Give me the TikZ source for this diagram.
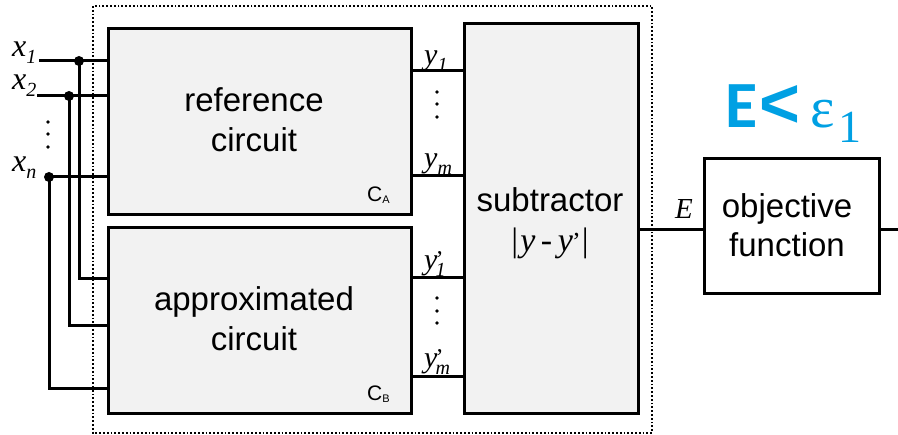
\documentclass[tikz,border=0pt]{standalone}
\usepackage{fontspec}
\setmainfont{Liberation Sans}
\newfontfamily\tnr{Liberation Serif}
\newfontfamily\carfont{Carlito}
\definecolor{boxgray}{HTML}{F2F2F2}
\definecolor{accentblue}{RGB}{0,160,227}
\newcommand{\vlab}[2]{{\tnr\itshape #1\raisebox{-7pt}{\fontsize{20}{20}\selectfont #2}}}
\newcommand{\vlabp}[2]{{\tnr\itshape #1\kern-2pt\raisebox{2pt}{\fontsize{24}{24}\selectfont\upshape\textquoteright}\kern-8pt\raisebox{-7pt}{\fontsize{20}{20}\selectfont #2}}}
\begin{document}
\begin{tikzpicture}[x=1pt,y=-1pt,
  blk/.style={draw=black, line width=2.8pt, fill=boxgray, anchor=north west, inner sep=0pt},
  conn/.style={line width=3pt, line cap=rect},
  lbl/.style={font=\fontsize{33}{40}\selectfont, inner sep=0pt, anchor=base},
  vin/.style={font=\fontsize{32}{32}\selectfont, inner sep=0pt, anchor=base west},
  vout/.style={font=\fontsize{30}{30}\selectfont, inner sep=0pt, anchor=base west},
  vdot/.style={fill=black},
  jdot/.style={circle, fill=black, inner sep=0pt, minimum size=10pt}
]
\useasboundingbox (0,0) rectangle (898,435);
% dotted enclosure
\draw[line width=1.8pt, dotted] (93,6) rectangle (652,433);
% inputs
\coordinate (x1) at (40,61);
\coordinate (x2) at (38,96);
\coordinate (xn) at (49,177);
\node[jdot] (d1) at (79,61) {};
\node[jdot] (d2) at (69,96) {};
\node[jdot] (dn) at (49,177) {};
\coordinate (b1) at (79,279);
\coordinate (b2) at (69,326);
\coordinate (bn) at (49,389);
\coordinate (r1) at (107,61);
\coordinate (r2) at (107,96);
\coordinate (rn) at (107,177);
\coordinate (a1) at (107,279);
\coordinate (a2) at (107,326);
\coordinate (an) at (107,389);
\draw[conn] (x1) -- (r1);
\draw[conn] (x2) -- (r2);
\draw[conn] (xn) -- (rn);
\draw[conn] (d1.center) -- (b1) -- (a1);
\draw[conn] (d2.center) -- (b2) -- (a2);
\draw[conn] (dn.center) -- (bn) -- (an);
% blocks
\node[blk, minimum width=303pt, minimum height=186pt] (ref) at (107,27) {};
\node[blk, minimum width=303pt, minimum height=186pt] (apx) at (107,226) {};
\node[blk, minimum width=174pt, minimum height=390pt] (sub) at (463,22) {};
\node[blk, fill=white, minimum width=175pt, minimum height=135pt] (obj) at (703,157) {};
% block texts
\node[lbl] (reft1) at (254,112) {reference};
\node[lbl] (reft2) at (254,152) {circuit};
\node[lbl] (apxt1) at (254,311) {approximated};
\node[lbl] (apxt2) at (254,351) {circuit};
\node[lbl] (subt) at (550,212) {subtractor};
\node[inner sep=0pt, anchor=base, font=\fontsize{34}{34}\selectfont] (subf) at (550,252) {{\tnr|\kern2pt\itshape y\,-\,y\kern-1pt\raisebox{1pt}{\upshape\fontsize{26}{26}\selectfont\textquoteright}\kern1pt\upshape|}};
\node[lbl] (objt1) at (787,218) {objective};
\node[lbl] (objt2) at (787,257) {function};
\node[inner sep=0pt, anchor=base west, font=\fontsize{21}{21}\selectfont] (ca) at (367,202) {C\raisebox{-2pt}{\fontsize{11}{11}\selectfont A}};
\node[inner sep=0pt, anchor=base west, font=\fontsize{21}{21}\selectfont] (cb) at (367,401) {C\raisebox{-2pt}{\fontsize{11}{11}\selectfont B}};
\node[vin] (lx1) at (12,57) {\vlab{x}{1}};
\node[vin] (lx2) at (12,90) {\vlab{x}{2}};
\node[vin] (lxn) at (12,172) {\vlab{x}{n}};
\foreach \yy in {122,134,147} \fill[vdot] (48,\yy) circle (1.9);
% outputs
\draw[conn] (ref.east |- 0,71) -- (sub.west |- 0,71);
\draw[conn] (ref.east |- 0,176) -- (sub.west |- 0,176);
\draw[conn] (apx.east |- 0,278) -- (sub.west |- 0,278);
\draw[conn] (apx.east |- 0,377) -- (sub.west |- 0,377);
\node[vout] (ly1) at (424,65) {\vlab{y}{1}};
\node[vout] (lym) at (424,168) {\vlab{y}{m}};
\node[vout] (lyp1) at (424,270) {\vlabp{y}{1}};
\node[vout] (lypm) at (424,368) {\vlabp{y}{m}};
\foreach \yy in {92,104,117} \fill[vdot] (437,\yy) circle (1.9);
\foreach \yy in {298,311,323} \fill[vdot] (437,\yy) circle (1.9);
% subtractor to objective
\coordinate (outend) at (898,230);
\draw[conn] (sub.east |- outend) -- (obj.west |- outend);
\draw[conn] (obj.east |- outend) -- (outend);
\node[inner sep=0pt, anchor=base west, font=\fontsize{29}{29}\selectfont] (le) at (675,219) {{\tnr\itshape E}};
\node[inner sep=0pt, anchor=base west, text=accentblue] (cond) at (725,128) {\carfont\fontsize{66}{66}\selectfont\bfseries E{\rmfamily\fontsize{70}{70}\selectfont\kern2pt<}{\tnr\mdseries\fontsize{58}{58}\selectfont\kern10pt ε\kern4pt\raisebox{-15pt}{\fontsize{46}{46}\selectfont 1}}};
\end{tikzpicture}
\end{document}
